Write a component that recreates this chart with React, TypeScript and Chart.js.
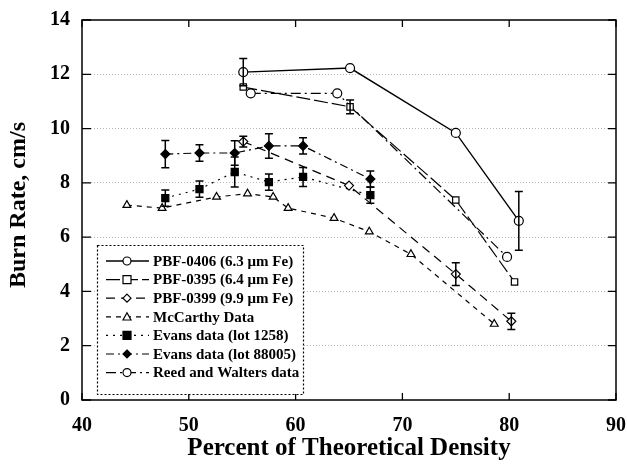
import React, { useEffect, useRef } from "react";
import { Chart, registerables } from "chart.js";
Chart.register(...registerables);

const xTickValues = [40, 50, 60, 70, 80, 90];
const yTickValues = [0, 2, 4, 6, 8, 10, 12, 14];
const xTitle = "Percent of Theoretical Density";
const yTitle = "Burn Rate, cm/s";

const seriesNames = [
  "PBF-0406 (6.3 \u03bcm Fe)",
  "PBF-0395 (6.4 \u03bcm Fe)",
  "PBF-0399 (9.9 \u03bcm Fe)",
  "McCarthy Data",
  "Evans data (lot 1258)",
  "Evans data (lot 88005)",
  "Reed and Walters data",
];

const pbf0406X = [55.1, 65.1, 75.0, 80.9];
const pbf0406Y = [12.08, 12.23, 9.84, 6.6];
const pbf0406Err = [0.5, 0, 0, 1.08];

const pbf0395X = [55.1, 65.1, 75.0, 80.5];
const pbf0395Y = [11.53, 10.8, 7.37, 4.35];
const pbf0395Err = [0, 0.25, 0, 0];

const pbf0399X = [55.1, 65.0, 75.0, 80.2];
const pbf0399Y = [9.52, 7.9, 4.64, 2.9];
const pbf0399Err = [0.2, 0, 0.42, 0.3];

const mccarthyX = [44.2, 47.5, 52.6, 55.5, 57.9, 59.3, 63.6, 66.9, 70.8, 78.6];
const mccarthyY = [7.18, 7.07, 7.48, 7.6, 7.48, 7.07, 6.7, 6.2, 5.37, 2.8];

const evans1258X = [47.8, 51.0, 54.3, 57.5, 60.7, 67.0];
const evans1258Y = [7.44, 7.77, 8.4, 8.03, 8.22, 7.55];
const evans1258Err = [0.3, 0.3, 0.55, 0.3, 0.35, 0.3];

const evans88005X = [47.8, 51.0, 54.3, 57.5, 60.7, 67.0];
const evans88005Y = [9.06, 9.1, 9.1, 9.36, 9.36, 8.14];
const evans88005Err = [0.5, 0.3, 0.45, 0.45, 0.3, 0.3];

const reedX = [55.8, 63.9, 79.8];
const reedY = [11.3, 11.3, 5.27];

const FONT = "'Liberation Serif', 'DejaVu Serif', serif";

function pts(xs: number[], ys: number[]) {
  return xs.map((x, i) => ({ x, y: ys[i] }));
}

function drawMarker(ctx: CanvasRenderingContext2D, style: string, x: number, y: number, r: number, fill: string) {
  ctx.beginPath();
  if (style === "circle") ctx.arc(x, y, r, 0, Math.PI * 2);
  else if (style === "rect") ctx.rect(x - r, y - r, 2 * r, 2 * r);
  else if (style === "rectRot") { ctx.moveTo(x, y - r); ctx.lineTo(x + r, y); ctx.lineTo(x, y + r); ctx.lineTo(x - r, y); ctx.closePath(); }
  else if (style === "triangle") { ctx.moveTo(x, y - r); ctx.lineTo(x + r, y + r * 0.8); ctx.lineTo(x - r, y + r * 0.8); ctx.closePath(); }
  ctx.fillStyle = fill;
  ctx.fill();
  ctx.strokeStyle = "#000";
  ctx.stroke();
}

export default function App() {
  const ref = useRef<HTMLCanvasElement | null>(null);
  useEffect(() => {
    if (!ref.current) return;
    const errs: (number[] | null)[] = [pbf0406Err, pbf0395Err, pbf0399Err, null, evans1258Err, evans88005Err, null];
    const base = (label: string, data: any[], dash: number[], style: string, fill: string, r: number, lw = 1.2) => ({
      label,
      data,
      showLine: true,
      borderColor: "#000",
      borderWidth: lw,
      borderDash: dash,
      pointStyle: style,
      pointRadius: r,
      pointBackgroundColor: fill,
      pointBorderColor: "#000",
      pointBorderWidth: 1.2,
      fill: false,
      tension: 0,
    });
    const datasets = [
      base(seriesNames[0], pts(pbf0406X, pbf0406Y), [], "circle", "#fff", 4.5, 1.4),
      base(seriesNames[1], pts(pbf0395X, pbf0395Y), [14, 4], "rect", "#fff", 4.5),
      base(seriesNames[2], pts(pbf0399X, pbf0399Y), [9, 6], "rectRot", "#fff", 4.5),
      base(seriesNames[3], pts(mccarthyX, mccarthyY), [5, 5], "triangle", "#fff", 4.5),
      base(seriesNames[4], pts(evans1258X, evans1258Y), [2, 5], "rect", "#000", 5),
      base(seriesNames[5], pts(evans88005X, evans88005Y), [8, 4, 2, 4], "rectRot", "#000", 4.5),
      base(seriesNames[6], pts(reedX, reedY), [10, 4, 2, 4], "circle", "#fff", 4.5),
    ];

    const decor = {
      id: "decor",
      afterDatasetsDraw(chart: any) {
        const { ctx, chartArea: a, scales } = chart;
        const xs = scales.x, ys = scales.y;
        ctx.save();
        ctx.strokeStyle = "#000";
        ctx.lineWidth = 1.5;
        ctx.setLineDash([]);
        chart.data.datasets.forEach((ds: any, di: number) => {
          const e = errs[di];
          if (!e) return;
          ds.data.forEach((p: any, i: number) => {
            if (!e[i]) return;
            const px = xs.getPixelForValue(p.x);
            const top = ys.getPixelForValue(p.y + e[i]);
            const bot = ys.getPixelForValue(p.y - e[i]);
            ctx.beginPath();
            ctx.moveTo(px, top); ctx.lineTo(px, bot);
            ctx.moveTo(px - 4, top); ctx.lineTo(px + 4, top);
            ctx.moveTo(px - 4, bot); ctx.lineTo(px + 4, bot);
            ctx.stroke();
          });
        });
        ctx.lineWidth = 1.5;
        ctx.strokeRect(a.left, a.top, a.right - a.left, a.bottom - a.top);
        ctx.lineWidth = 1.3;
        yTickValues.forEach((v) => {
          const py = ys.getPixelForValue(v);
          ctx.beginPath();
          ctx.moveTo(a.left, py); ctx.lineTo(a.left + 9, py);
          ctx.moveTo(a.right, py); ctx.lineTo(a.right - 8, py);
          ctx.stroke();
        });
        xTickValues.forEach((v) => {
          const px = xs.getPixelForValue(v);
          ctx.beginPath();
          ctx.moveTo(px, a.bottom); ctx.lineTo(px, a.bottom - 7);
          ctx.moveTo(px, a.top); ctx.lineTo(px, a.top + 7);
          ctx.stroke();
        });
        // y title
        ctx.save();
        ctx.translate(19, 205);
        ctx.rotate(-Math.PI / 2);
        ctx.font = `bold 24px ${FONT}`;
        ctx.fillStyle = "#000";
        ctx.textAlign = "center";
        ctx.textBaseline = "middle";
        ctx.fillText(yTitle, 0, 0);
        ctx.restore();
        // legend
        const lx = 97, ly = 245, lw = 206, lh = 149;
        ctx.fillStyle = "#fff";
        ctx.fillRect(lx, ly, lw, lh);
        ctx.setLineDash([2, 2]);
        ctx.lineWidth = 1.2;
        ctx.strokeRect(lx + 0.5, ly + 0.5, lw, lh);
        ctx.font = `bold 15px ${FONT}`;
        ctx.textBaseline = "middle";
        ctx.textAlign = "left";
        chart.data.datasets.forEach((ds: any, i: number) => {
          const y = 261 + i * 18.6;
          ctx.strokeStyle = "#000";
          ctx.lineWidth = ds.borderWidth;
          ctx.setLineDash(ds.borderDash);
          ctx.beginPath(); ctx.moveTo(106, y); ctx.lineTo(149, y); ctx.stroke();
          ctx.setLineDash([]);
          ctx.lineWidth = 1.2;
          drawMarker(ctx, ds.pointStyle, 127, y, 4, ds.pointBackgroundColor);
          ctx.fillStyle = "#000";
          ctx.fillText(ds.label, 153, y + 1);
        });
        ctx.restore();
      },
    };

    const chart = new Chart(ref.current, {
      type: "scatter",
      data: { datasets: datasets as any },
      plugins: [decor],
      options: {
        animation: false,
        responsive: false,
        maintainAspectRatio: false,
        layout: { padding: { top: 20, right: 11, left: 0, bottom: 0 } },
        plugins: { legend: { display: false }, tooltip: { enabled: false } },
        scales: {
          x: {
            type: "linear",
            min: 40,
            max: 90,
            afterFit: (s: any) => { s.height = 64; s.paddingLeft = 0; s.paddingRight = 0; },
            afterBuildTicks: (s: any) => { s.ticks = xTickValues.map((v) => ({ value: v })); },
            grid: { display: false, drawTicks: false },
            border: { display: false },
            ticks: { color: "#000", padding: 14, font: { family: FONT, size: 20, weight: "bold" } },
            title: { display: true, text: xTitle, color: "#000", padding: { top: 0, bottom: 0 }, font: { family: FONT, size: 25, weight: "bold" } },
          },
          y: {
            type: "linear",
            min: 0,
            max: 14,
            afterFit: (s: any) => { s.width = 82; s.paddingTop = 0; s.paddingBottom = 0; },
            afterBuildTicks: (s: any) => { s.ticks = yTickValues.map((v) => ({ value: v })); },
            grid: {
              drawTicks: false,
              color: (c: any) => (c.tick && (c.tick.value === 0 || c.tick.value === 14) ? "rgba(0,0,0,0)" : "#b8b8b8"),
              lineWidth: 1,
            },
            border: { display: false, dash: [1, 2] } as any,
            ticks: { color: "#000", padding: 12, font: { family: FONT, size: 20, weight: "bold" } },
          },
        },
      } as any,
    });
    return () => chart.destroy();
  }, []);
  return (
    <div style={{ position: "fixed", left: 0, top: 0, width: 627, height: 464, background: "#fff" }}>
      <canvas ref={ref} width={627} height={464} style={{ width: 627, height: 464 }} />
    </div>
  );
}
